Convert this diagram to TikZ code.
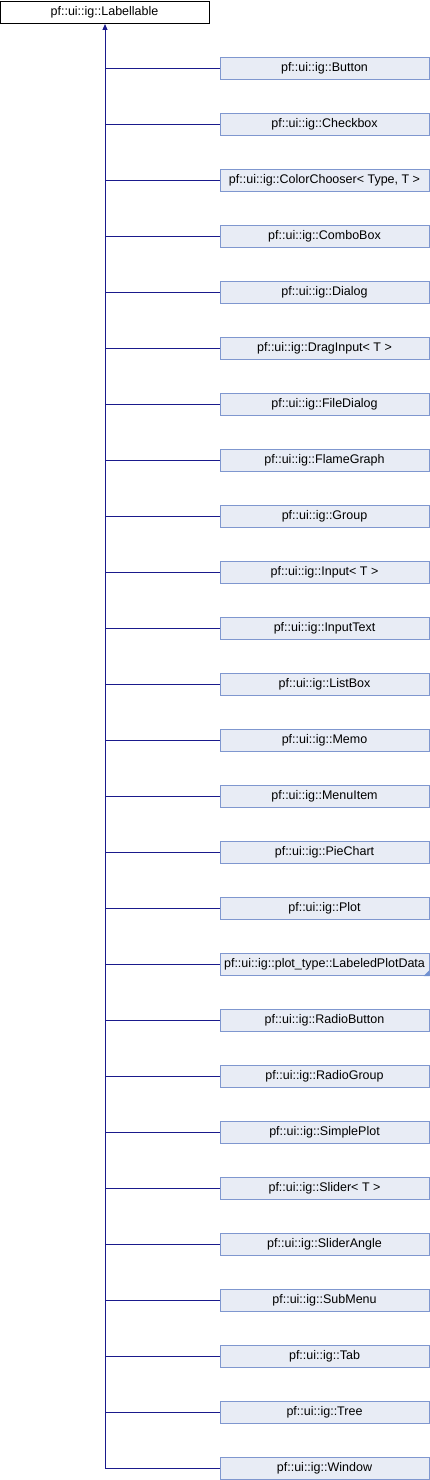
\documentclass[tikz,border=0pt]{standalone}
\usepackage{fontspec}
\setmainfont{Liberation Sans}
\usetikzlibrary{arrows.meta}
\definecolor{edgeblue}{HTML}{1A1A8C}
\definecolor{boxfill}{HTML}{E8ECF5}
\definecolor{boxline}{HTML}{7F97CF}
\definecolor{cornerblue}{HTML}{7090D0}
\begin{document}
\begin{tikzpicture}[x=1pt,y=-1pt,
  basebox/.style={draw=black,fill=white,line width=1pt,minimum width=209pt,minimum height=22pt,inner sep=0pt,font=\fontsize{12.5}{14}\selectfont},
  childbox/.style={draw=boxline,fill=boxfill,line width=1pt,minimum width=209pt,minimum height=22pt,inner sep=0pt,font=\fontsize{12.5}{14}\selectfont},
  link/.style={draw=edgeblue,line width=1pt}]
\useasboundingbox (0,0) rectangle (430,1480);
\node[basebox] (base) at (104.5,12.5) {pf::ui::ig::Labellable};
\foreach \n/\t [count=\i from 0] in {
  button/{pf::ui::ig::Button},
  checkbox/{pf::ui::ig::Checkbox},
  colorchooser/{pf::ui::ig::ColorChooser< Type, T >},
  combobox/{pf::ui::ig::ComboBox},
  dialog/{pf::ui::ig::Dialog},
  draginput/{pf::ui::ig::DragInput< T >},
  filedialog/{pf::ui::ig::FileDialog},
  flamegraph/{pf::ui::ig::FlameGraph},
  group/{pf::ui::ig::Group},
  input/{pf::ui::ig::Input< T >},
  inputtext/{pf::ui::ig::InputText},
  listbox/{pf::ui::ig::ListBox},
  memo/{pf::ui::ig::Memo},
  menuitem/{pf::ui::ig::MenuItem},
  piechart/{pf::ui::ig::PieChart},
  plot/{pf::ui::ig::Plot},
  labeledplotdata/{pf::ui::ig::plot\_type::LabeledPlotData},
  radiobutton/{pf::ui::ig::RadioButton},
  radiogroup/{pf::ui::ig::RadioGroup},
  simpleplot/{pf::ui::ig::SimplePlot},
  slider/{pf::ui::ig::Slider< T >},
  sliderangle/{pf::ui::ig::SliderAngle},
  submenu/{pf::ui::ig::SubMenu},
  tab/{pf::ui::ig::Tab},
  tree/{pf::ui::ig::Tree},
  window/{pf::ui::ig::Window}} {
  \node[childbox] (\n) at (324.5,{68.5+56*\i}) {\t};
  \coordinate (j\n) at (105,{68.5+56*\i});
  \draw[link] (j\n) -- (\n.west);
}
\fill[cornerblue] (labeledplotdata.south east) -- ++(0,-6) -- ++(-6,6) -- cycle;
\draw[link,-{Triangle[length=6pt,width=5pt]}] (jwindow) -- (base.south -| jwindow);
\end{tikzpicture}
\end{document}
